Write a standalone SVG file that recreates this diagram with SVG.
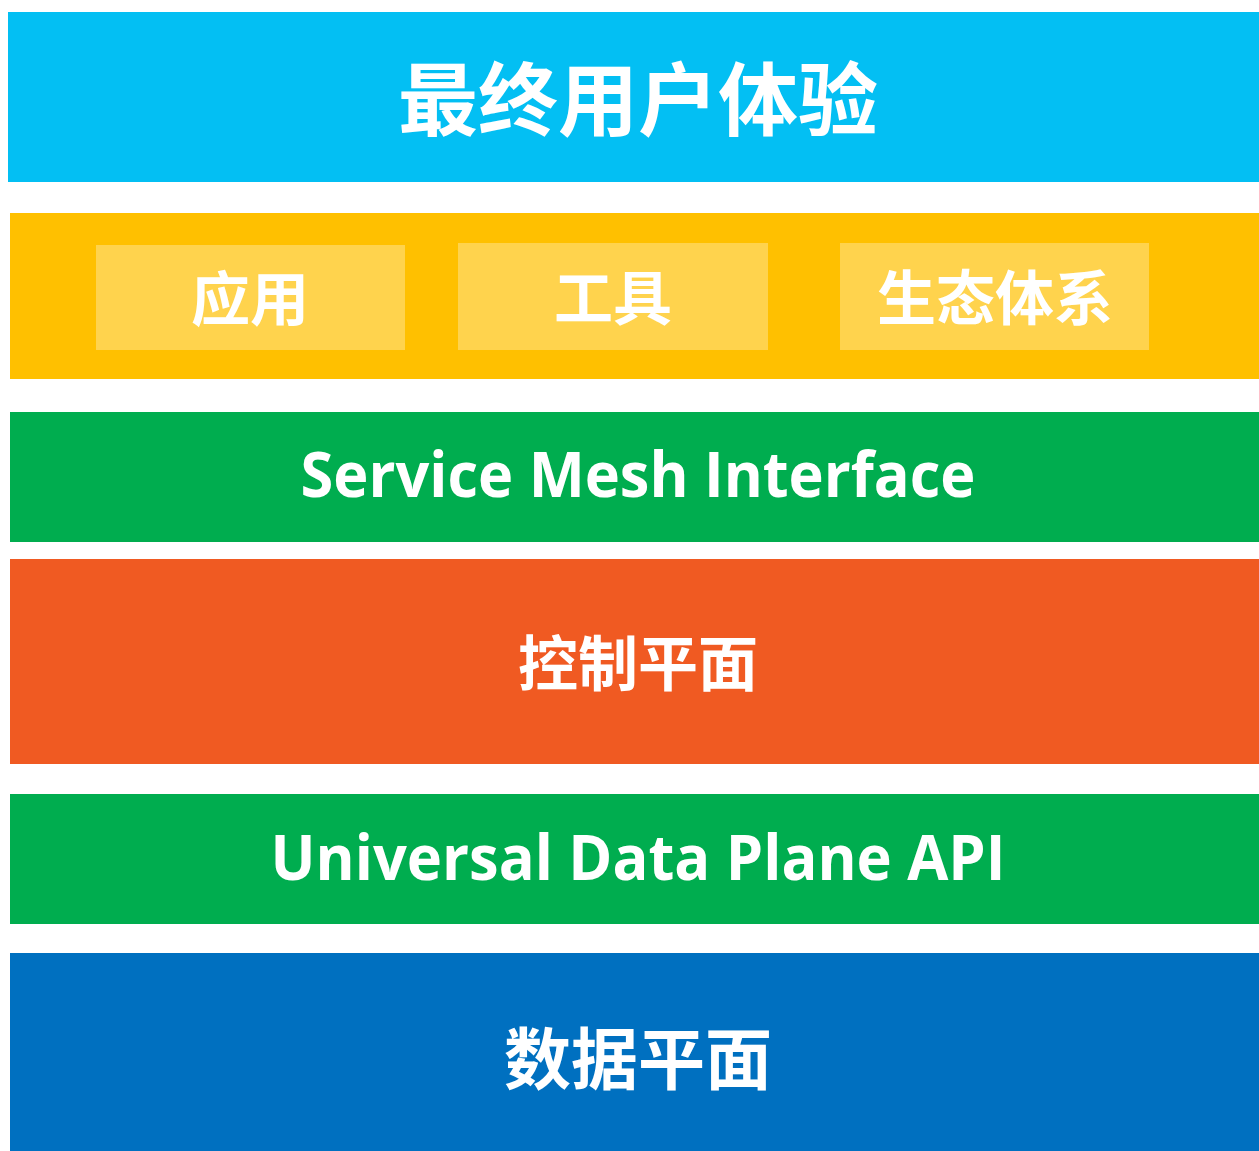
<svg xmlns="http://www.w3.org/2000/svg" width="1259" height="1151" viewBox="0 0 1259 1151">
<style>
.cjk{font-family:"Noto Sans CJK SC","Noto Sans",sans-serif;font-weight:700;fill:#fff;text-anchor:middle;dominant-baseline:central}
.lat{font-family:"Open Sans","Liberation Sans",sans-serif;font-weight:700;fill:#fff;text-anchor:middle}
</style>
<rect width="1259" height="1151" fill="#fff"/>
<g id="user-experience">
<rect x="8" y="12" width="1251" height="170" fill="#03BFF3"/>
<text class="cjk" x="638" y="94" font-size="80">最终用户体验</text>
</g>
<g id="ecosystem-layer">
<rect x="10" y="213" width="1249" height="166" fill="#FFC000"/>
<g id="apps">
<rect x="96" y="245" width="309" height="105" fill="#FFD34D"/>
<text class="cjk" x="250" y="295" font-size="59">应用</text>
</g>
<g id="tools">
<rect x="458" y="243" width="310" height="107" fill="#FFD34D"/>
<text class="cjk" x="613" y="294" font-size="59">工具</text>
</g>
<g id="ecosystem">
<rect x="840" y="243" width="309" height="107" fill="#FFD34D"/>
<text class="cjk" x="995" y="294" font-size="59">生态体系</text>
</g>
</g>
<g id="smi">
<rect x="10" y="412" width="1249" height="130" fill="#00AD4F"/>
<text class="lat" x="638" y="497" font-size="62" textLength="675" lengthAdjust="spacingAndGlyphs">Service Mesh Interface</text>
</g>
<g id="control-plane">
<rect x="10" y="559" width="1249" height="205" fill="#F05A22"/>
<text class="cjk" x="638" y="659" font-size="60">控制平面</text>
</g>
<g id="udpa">
<rect x="10" y="794" width="1249" height="130" fill="#00AD4F"/>
<text class="lat" x="638" y="880" font-size="62" textLength="735" lengthAdjust="spacingAndGlyphs">Universal Data Plane API</text>
</g>
<g id="data-plane">
<rect x="10" y="953" width="1249" height="198" fill="#0070C0"/>
<text class="cjk" x="638" y="1054" font-size="67">数据平面</text>
</g>
<g id="connectors"/>
</svg>
